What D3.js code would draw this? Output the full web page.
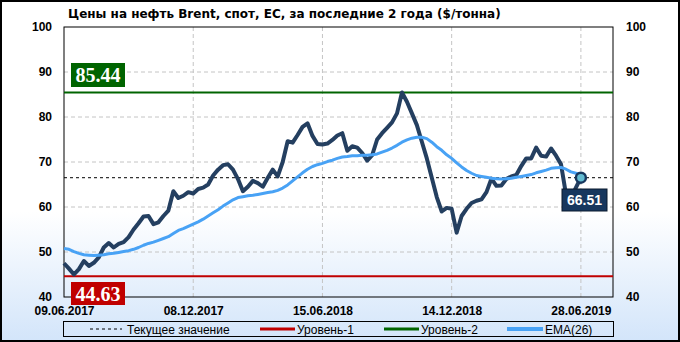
<!DOCTYPE html>
<html lang="ru">
<head>
<meta charset="utf-8">
<script src="https://d3js.org/d3.v7.min.js"></script>
<style>
  body { margin: 0; background: #fff; }
  svg text { font-family: "Liberation Sans", Arial, sans-serif; }
</style>
</head>
<body>
<script>
// weekly Brent prices, EC spot ($/tonne)
var tickIdx = [0, 26, 52, 78, 104];
var tickDates = ["09.06.2017", "08.12.2017", "15.06.2018", "14.12.2018", "28.06.2019"];
var yTicks = [40, 50, 60, 70, 80, 90, 100];

var brent = [
  47.5, 46.3, 45.0, 46.2, 48.0, 46.9, 47.6, 48.8, 51.0, 52.0,
  51.0, 51.8, 52.2, 53.3, 55.0, 56.4, 57.9, 58.0, 56.2, 56.6,
  58.0, 59.2, 63.5, 62.0, 62.5, 63.3, 63.0, 64.0, 64.3, 65.0,
  67.0, 68.3, 69.3, 69.5, 68.3, 66.2, 63.5, 64.5, 65.8, 65.3,
  64.5, 66.5, 68.3, 66.8, 70.0, 74.6, 74.3, 76.0, 77.8, 78.6,
  75.8, 74.0, 73.9, 74.1, 74.9, 75.9, 76.4, 72.5, 73.5, 73.2,
  72.0, 70.3, 71.5, 75.0, 76.4, 77.6, 78.8, 80.8, 85.44, 83.4,
  80.8, 78.2, 74.5, 70.8, 66.5, 62.2, 59.0, 59.8, 59.6, 54.3,
  58.0, 59.6, 60.9, 61.4, 61.7, 63.3, 66.3, 64.7, 64.8, 66.2,
  66.8, 67.1, 69.1, 70.8, 70.8, 73.2, 71.4, 71.2, 73.0, 71.4,
  69.5, 62.8, 62.0, 64.3, 66.51
];
var ema = [
  50.8, 50.6, 50.1, 49.7, 49.4, 49.3, 49.2, 49.3, 49.4, 49.6,
  49.7, 49.9, 50.1, 50.3, 50.6, 51.0, 51.5, 51.9, 52.2, 52.6,
  53.0, 53.4, 54.1, 54.8, 55.2, 55.7, 56.2, 56.7, 57.3, 58.0,
  58.7, 59.4, 60.2, 60.9, 61.6, 62.1, 62.3, 62.5, 62.6, 62.8,
  63.0, 63.2, 63.4, 63.7, 64.2, 64.9, 65.8, 66.7, 67.6, 68.4,
  69.0, 69.4, 69.7, 70.1, 70.4, 70.8, 71.1, 71.2, 71.4, 71.4,
  71.5, 71.5, 71.6, 71.8, 72.2, 72.6, 73.1, 73.7, 74.4, 74.9,
  75.3, 75.5, 75.5, 75.2, 74.4, 73.4, 72.6, 71.6, 70.8, 69.8,
  68.9, 68.1, 67.5, 67.0, 66.8, 66.6, 66.4, 66.3, 66.2, 66.3,
  66.4, 66.6, 66.8, 67.0, 67.2, 67.6, 67.9, 68.2, 68.6, 68.7,
  68.8, 68.4, 67.8, 67.5, 67.2
];
var level1 = 44.63;
var level2 = 85.44;
var current = brent[brent.length - 1];

var W = 680, H = 342;
var pLeft = 64, pRight = 613, pTop = 27, pBottom = 297;

var svg = d3.select("body").append("svg")
  .attr("width", W).attr("height", H);

var grad = svg.append("defs").append("linearGradient")
  .attr("id", "bg").attr("x1", 0).attr("y1", 0).attr("x2", 0).attr("y2", 1);
grad.append("stop").attr("offset", "0.62").attr("stop-color", "#ffffff");
grad.append("stop").attr("offset", "1").attr("stop-color", "#d3e5fa");

svg.append("rect").attr("x", 1).attr("y", 1).attr("width", W - 2).attr("height", H - 2)
  .attr("fill", "url(#bg)").attr("stroke", "#000").attr("stroke-width", 2);

svg.append("text").attr("x", 68).attr("y", 18)
  .style("font-family", "'DejaVu Sans', Verdana, sans-serif")
  .style("font-size", "12px").style("font-weight", "bold")
  .text("Цены на нефть Brent, спот, ЕС, за последние 2 года ($/тонна)");

var x = d3.scaleLinear().domain([0, 110.46]).range([pLeft, pRight]);
var y = d3.scaleLinear().domain([40, 100]).range([pBottom, pTop]);

// grid
svg.append("g").selectAll("line").data(yTicks.slice(1, -1)).enter().append("line")
  .attr("x1", pLeft).attr("x2", pRight)
  .attr("y1", function(d) { return y(d); }).attr("y2", function(d) { return y(d); })
  .attr("stroke", "#c4c4c4").attr("stroke-dasharray", "4,3");
svg.append("g").selectAll("line").data(tickIdx.slice(1)).enter().append("line")
  .attr("x1", function(d) { return x(d); }).attr("x2", function(d) { return x(d); })
  .attr("y1", pTop).attr("y2", pBottom)
  .attr("stroke", "#c4c4c4").attr("stroke-dasharray", "4,3");

// axes
var yl = svg.append("g").attr("transform", "translate(" + pLeft + ",0)")
  .call(d3.axisLeft(y).tickValues(yTicks).tickSize(0).tickPadding(12));
var yr = svg.append("g").attr("transform", "translate(" + pRight + ",0)")
  .call(d3.axisRight(y).tickValues(yTicks).tickSize(0).tickPadding(13));
var xa = svg.append("g").attr("transform", "translate(0," + pBottom + ")")
  .call(d3.axisBottom(x).tickValues(tickIdx).tickSize(0).tickPadding(9)
    .tickFormat(function(d, i) { return tickDates[i]; }));
[yl, yr, xa].forEach(function(g) {
  g.select(".domain").remove();
  g.selectAll("text").attr("fill", "#000")
    .style("font-family", "'Liberation Sans', Arial, sans-serif")
    .style("font-size", "12px").style("font-weight", "bold");
});

svg.append("rect").attr("x", pLeft).attr("y", pTop)
  .attr("width", pRight - pLeft).attr("height", pBottom - pTop)
  .attr("fill", "none").attr("stroke", "#000");

// levels
svg.append("line").attr("x1", pLeft).attr("x2", pRight)
  .attr("y1", y(level1)).attr("y2", y(level1))
  .attr("stroke", "#c00000").attr("stroke-width", 2);
svg.append("line").attr("x1", pLeft).attr("x2", pRight)
  .attr("y1", y(level2)).attr("y2", y(level2))
  .attr("stroke", "#006400").attr("stroke-width", 2);
svg.append("line").attr("x1", pLeft).attr("x2", pRight)
  .attr("y1", y(current)).attr("y2", y(current))
  .attr("stroke", "#000").attr("stroke-dasharray", "3,3");

var line = d3.line()
  .x(function(d, i) { return x(i); })
  .y(function(d) { return y(d); });

svg.append("path").datum(brent).attr("d", line)
  .attr("fill", "none").attr("stroke", "#243f60").attr("stroke-width", 4)
  .attr("stroke-linejoin", "round");
svg.append("path").datum(ema).attr("d", line)
  .attr("fill", "none").attr("stroke", "#48a2f5").attr("stroke-width", 3)
  .attr("stroke-linejoin", "round");

// level labels
function tag(val, px, py, w, h, fill, font, size) {
  var g = svg.append("g");
  g.append("rect").attr("x", px).attr("y", py).attr("width", w).attr("height", h)
    .attr("fill", fill).attr("stroke", fill === "#17375e" ? "#0a1a2e" : "none");
  g.append("text").attr("x", px + w / 2).attr("y", py + h / 2).attr("dy", "0.36em")
    .attr("text-anchor", "middle").attr("fill", "#fff")
    .style("font-family", font).style("font-size", size + "px").style("font-weight", "bold")
    .text(val.toFixed(2));
}
tag(level2, 71, 63, 54, 24, "#006400", "'Liberation Serif', 'Times New Roman', serif", 20);
tag(level1, 71, 282, 54, 23, "#c00000", "'Liberation Serif', 'Times New Roman', serif", 20);
tag(current, 562, 189, 45, 22, "#17375e", "'Liberation Sans', Arial, sans-serif", 14);

var last = brent.length - 1;
svg.append("circle").attr("cx", x(last)).attr("cy", y(current)).attr("r", 5)
  .attr("fill", "#63bcd2").attr("stroke", "#17375e").attr("stroke-width", 2.5);

// legend
var lg = svg.append("g");
lg.append("rect").attr("x", 63.5).attr("y", 321.5).attr("width", 550).attr("height", 15)
  .attr("fill", "none").attr("stroke", "#000");
var items = [
  { name: "Текущее значение", x0: 90, x1: 122, color: "#000", w: 1, dash: "3,3" },
  { name: "Уровень-1", x0: 260, x1: 295, color: "#c00000", w: 3, dash: null },
  { name: "Уровень-2", x0: 384, x1: 419, color: "#006400", w: 3, dash: null },
  { name: "EMA(26)", x0: 507, x1: 543, color: "#48a2f5", w: 4, dash: null }
];
items.forEach(function(it) {
  lg.append("line").attr("x1", it.x0).attr("x2", it.x1).attr("y1", 329).attr("y2", 329)
    .attr("stroke", it.color).attr("stroke-width", it.w)
    .attr("stroke-dasharray", it.dash);
  lg.append("text").attr("x", it.x1 + (it.dash ? 5 : 2)).attr("y", 333.5)
    .style("font-size", "12px").text(it.name);
});
</script>
</body>
</html>
